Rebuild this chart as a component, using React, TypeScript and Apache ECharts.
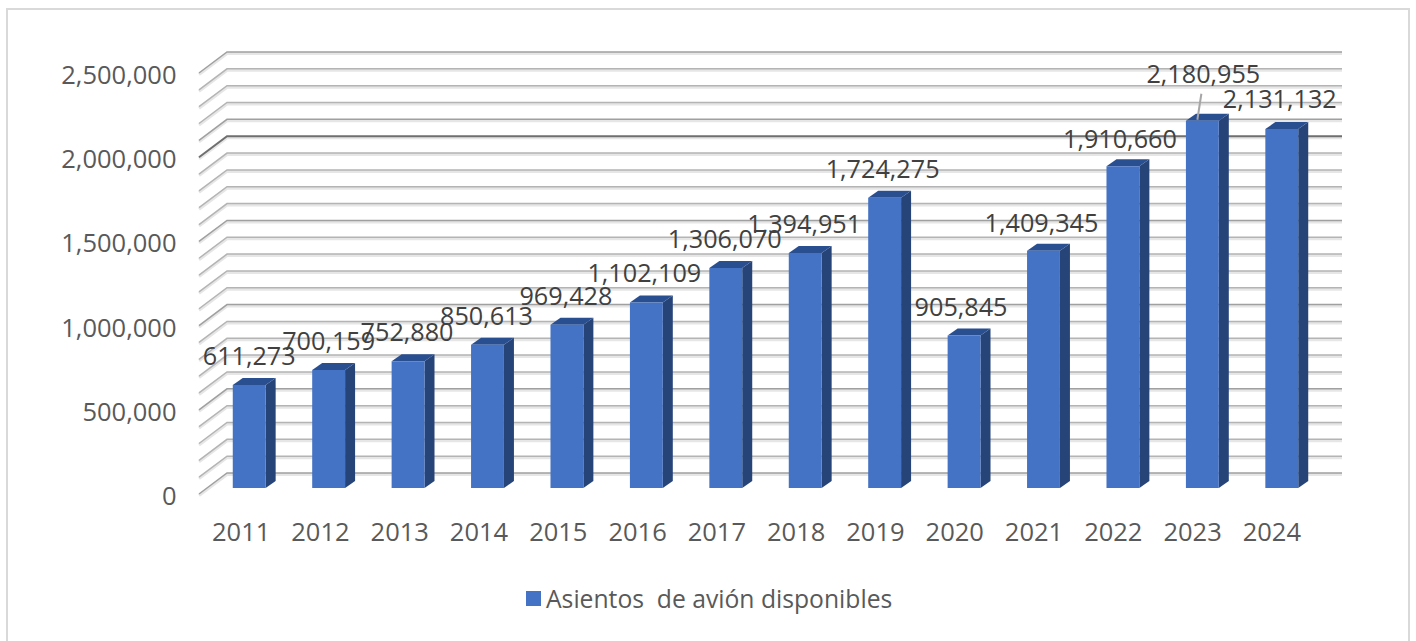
import React, { useEffect, useRef } from "react";
import * as echarts from "echarts";

const years = ["2011","2012","2013","2014","2015","2016","2017","2018","2019","2020","2021","2022","2023","2024"];
const seats = [611273,700159,752880,850613,969428,1102109,1306070,1394951,1724275,905845,1409345,1910660,2180955,2131132];
const seriesName = "Asientos  de avión disponibles";
const gridTicks = [0,100000,200000,300000,400000,500000,600000,700000,800000,900000,1000000,1100000,1200000,1300000,1400000,1500000,1600000,1700000,1800000,1900000,2000000,2100000,2200000,2300000,2400000,2500000];
const labelNudgeX = [0,0,-1,-1,-1,-2,-1,-1,-2,-3,-2,-3,1,-2];
const labelNudgeY = [-30,-30,-30,-30,-30,-30,-30,-30,-30,-29,-29,-28,-48,-31];

const FONT = "'Open Sans', sans-serif";
const TEXT = "#595959";
const FRONT = "#4472C4";
const SIDE = "#264478";
const TOP = "#2A4F90";
const MAX = 2500000;

export default function App() {
  const ref = useRef<HTMLDivElement>(null);
  useEffect(() => {
    const chart = echarts.init(ref.current!, undefined, { renderer: "svg" });
    const sharedX = (gridIndex: number, left: boolean) => ({
      type: "category", gridIndex, data: years, boundaryGap: true,
      axisLine: { show: false }, axisTick: { show: false }, splitLine: { show: false },
      axisLabel: left ? { show: true, color: TEXT, fontFamily: FONT, fontSize: 25.5, margin: 23 } : { show: false },
    });
    const sharedY = (gridIndex: number, left: boolean) => ({
      type: "value", gridIndex, min: 0, max: MAX, interval: left ? 500000 : 100000,
      axisLine: { show: false }, axisTick: { show: false }, splitLine: { show: false },
      axisLabel: left ? { show: true, color: TEXT, fontFamily: FONT, fontSize: 25.5, margin: 25,
        formatter: (v: number) => v.toLocaleString("en-US") } : { show: false },
    });
    chart.setOption({
      animation: false,
      backgroundColor: "#fff",
      graphic: [{ type: "rect", silent: true, z: -1, shape: { x: 7, y: 9, width: 1402, height: 650 },
        style: { fill: "#fff", stroke: "#d9d9d9", lineWidth: 2 } }],
      grid: [
        { left: 227, width: 1115, top: 52, height: 421 },
        { left: 201.5, width: 1110, top: 74, height: 421 },
        { left: 209.5, width: 1112, top: 67, height: 421 },
      ],
      xAxis: [sharedX(0, false), sharedX(1, true), sharedX(2, false)],
      yAxis: [sharedY(0, false), sharedY(1, true), sharedY(2, false)],
      legend: {
        data: [seriesName], left: 521, top: 581, icon: "rect", itemWidth: 15, itemHeight: 15, itemGap: 11,
        textStyle: { color: TEXT, fontFamily: FONT, fontSize: 24.7 },
      },
      series: [
        {
          type: "custom", name: "wall", xAxisIndex: 0, yAxisIndex: 0, silent: true, z: 1,
          data: gridTicks,
          renderItem: (_p: any, api: any) => {
            const v = api.value(0);
            const [, y] = api.coord([0, v]);
            const xL = 227, xR = 1342;
            const strong = v === 2000000;
            const mid = v % 500000 === 0 || v === 2100000;
            const points = [[xL - 28, y + 21], [xL, y], [xR, y]];
            return {
              type: "group", children: [
                { type: "polyline", shape: { points: points.map(p => [p[0], p[1] + 1.5]) }, style: { fill: "none", stroke: "#e6e6e6", lineWidth: 3 } },
                { type: "polyline", shape: { points }, style: { fill: "none", stroke: strong ? "#6f6f6f" : mid ? "#a0a0a0" : "#b4b4b4", lineWidth: strong ? 2 : 1.5 } },
              ],
            };
          },
          encode: { y: 0 },
        },
        {
          type: "custom", name: seriesName, xAxisIndex: 2, yAxisIndex: 2, z: 2,
          itemStyle: { color: FRONT },
          data: seats.map((v, i) => [i, v]),
          renderItem: (_p: any, api: any) => {
            const [cx, yTop] = api.coord([api.value(0), api.value(1)]);
            const [, yBase] = api.coord([api.value(0), 0]);
            const hw = api.size([1, 0])[0] * 0.207;
            const dx = 10, dy = 7;
            const l = cx - hw, r = cx + hw;
            return {
              type: "group", children: [
                { type: "polygon", shape: { points: [[r, yTop], [r + dx, yTop - dy], [r + dx, yBase - dy], [r, yBase]] }, style: { fill: SIDE } },
                { type: "polygon", shape: { points: [[l, yTop], [l + dx, yTop - dy], [r + dx, yTop - dy], [r, yTop]] }, style: { fill: TOP } },
                { type: "rect", shape: { x: l, y: yTop, width: r - l, height: yBase - yTop }, style: { fill: FRONT } },
              ],
            };
          },
          encode: { x: 0, y: 1 },
        },
        {
          type: "custom", name: "labels", xAxisIndex: 2, yAxisIndex: 2, silent: true, z: 3,
          data: seats.map((v, i) => [i, v]),
          renderItem: (_p: any, api: any) => {
            const i = api.value(0);
            const [cx, yTop] = api.coord([i, api.value(1)]);
            const children: any[] = [{
              type: "text",
              style: { x: cx + labelNudgeX[i], y: yTop + labelNudgeY[i], text: seats[i].toLocaleString("en-US"),
                fill: "#404040", font: `25.2px ${FONT}`, textAlign: "center", textVerticalAlign: "middle" },
            }];
            if (labelNudgeY[i] < -40) {
              children.push({ type: "line", shape: { x1: cx - 1, y1: yTop - 27, x2: cx - 5, y2: yTop - 1 }, style: { stroke: "#a6a6a6", lineWidth: 2 } });
            }
            return { type: "group", children };
          },
          encode: { x: 0, y: 1 },
        },
      ],
    });
    return () => chart.dispose();
  }, []);
  return <div ref={ref} style={{ position: "fixed", left: 0, top: 0, width: 1416, height: 641 }} />;
}
